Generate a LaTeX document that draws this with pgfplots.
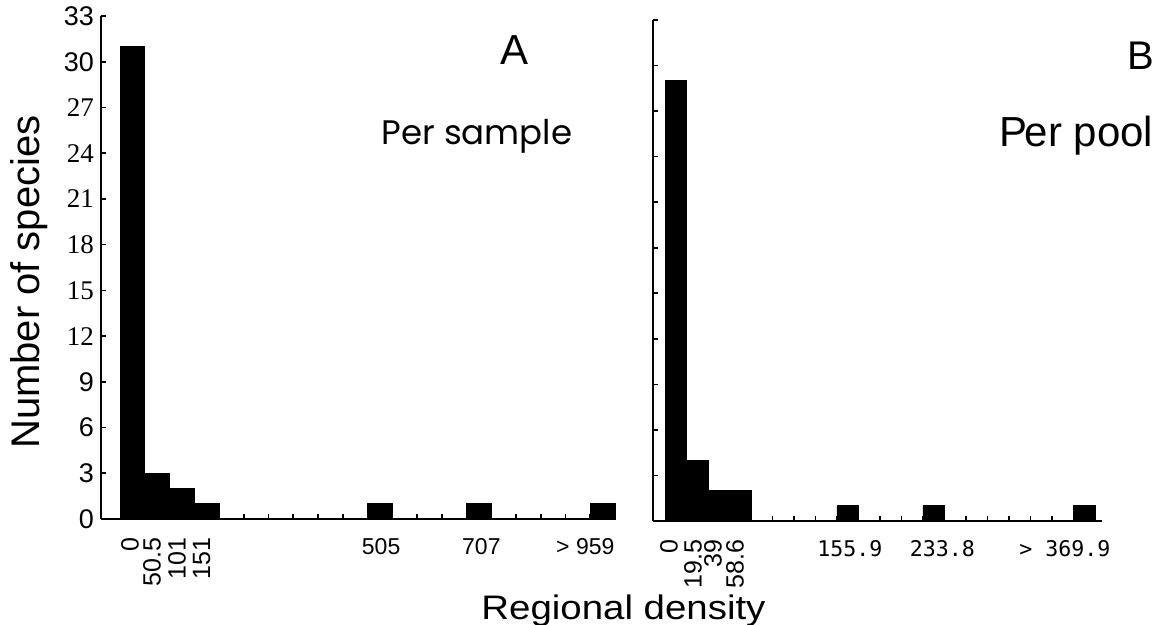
\documentclass[border=0pt]{standalone}
\usepackage{fontspec}
\setmainfont{Liberation Sans}
\newfontfamily\serifnum{Liberation Serif}
\newfontfamily\mononum{DejaVu Sans Mono}
\newfontfamily\geo{Poppins}
\usepackage{graphicx}
\usepackage{pgfplots}
\pgfplotsset{compat=1.18}

\newcommand{\rl}[1]{\rotatebox{90}{\fontsize{12.5}{12.5}\selectfont #1}}
\newcommand{\ml}[1]{{\mononum\fontsize{10.8}{10.8}\selectfont #1}}

\pgfplotsset{
  histo/.style={
    scale only axis,
    axis x line=bottom, axis y line=left,
    axis line style={-, line width=1.2pt},
    xmax=20, ymin=0, ymax=33,
    enlargelimits=false, clip=false,
    tick align=inside,
    tick style={black, line width=0.8pt},
    major tick length=2.5pt,
    ytick={0,3,...,33},
    xtick={1,...,19},
    xticklabels={},
    x tick label style={yshift=-6pt, font=\fontsize{11.5}{11.5}\selectfont},
    y tick label style={font=\fontsize{13.5}{13.5}\selectfont},
    extra x tick style={major tick length=0pt},
  }
}

\begin{document}
\begin{tikzpicture}[x=1pt,y=1pt]

% Panel A: per sample
\begin{axis}[histo,
  at={(50.5pt,53pt)}, anchor=south west,
  width=257pt, height=251.5pt,
  xmin=-0.77,
  extra x ticks={0.4,1.29,2.3,3.3,10.55,14.6,18.8},
  extra x tick labels={\rl{0},\rl{50.5},\rl{101},\rl{151},505,707,{> 959}},
  yticklabels={0,3,6,9,{\serifnum 12},{\serifnum 15},{\serifnum 18},{\serifnum 21},{\serifnum 24},{\serifnum 27},30,33},
  ylabel={Number of species},
  ylabel style={at={(axis description cs:-0.14,0.471)}, anchor=center,
    font=\fontsize{20}{20}\selectfont},
]
\addplot[ybar interval, fill=black, draw=black] coordinates {
  (0,31) (1,3) (2,2) (3,1) (4,0) (5,0) (6,0) (7,0) (8,0) (9,0)
  (10,1) (11,0) (12,0) (13,0) (14,1) (15,0) (16,0) (17,0) (18,0) (19,1) (20,1)
};
\end{axis}

% Panel B: per pool
\begin{axis}[histo,
  at={(326.5pt,52pt)}, anchor=south west,
  width=224.5pt, height=250.5pt,
  xmin=-0.56, xmax=20.33,
  extra x ticks={0.19,1.3,2.23,3.26,8.6,12.9,18.6},
  extra x tick labels={\rl{0},\rl{19.5},\rl{39},\rl{58.6},\ml{155.9},\ml{233.8},\ml{> 369.9}},
  yticklabels={},
]
\addplot[ybar interval, fill=black, draw=black] coordinates {
  (0,29) (1,4) (2,2) (3,2) (4,0) (5,0) (6,0) (7,0) (8,1) (9,0)
  (10,0) (11,0) (12,1) (13,0) (14,0) (15,0) (16,0) (17,0) (18,0) (19,1) (20,1)
};
\end{axis}

\node[font=\fontsize{21}{21}\selectfont] at (257,287.5) {A};
\node[font=\geo\fontsize{17}{17}\selectfont, anchor=base] at (238.5,240) {Per sample};
\node[font=\fontsize{20}{20}\selectfont] at (570.25,284.75) {B};
\node[font=\fontsize{21}{21}\selectfont, anchor=base] at (538.25,239) {P\kern-1.5pt er pool};
\node[font=\fontsize{17}{17}\selectfont, anchor=base, xscale=1.13] at (311.75,2.5) {Regional density};

\pgfresetboundingbox
\useasboundingbox (0,0) rectangle (585.5,312.5);
\end{tikzpicture}
\end{document}
